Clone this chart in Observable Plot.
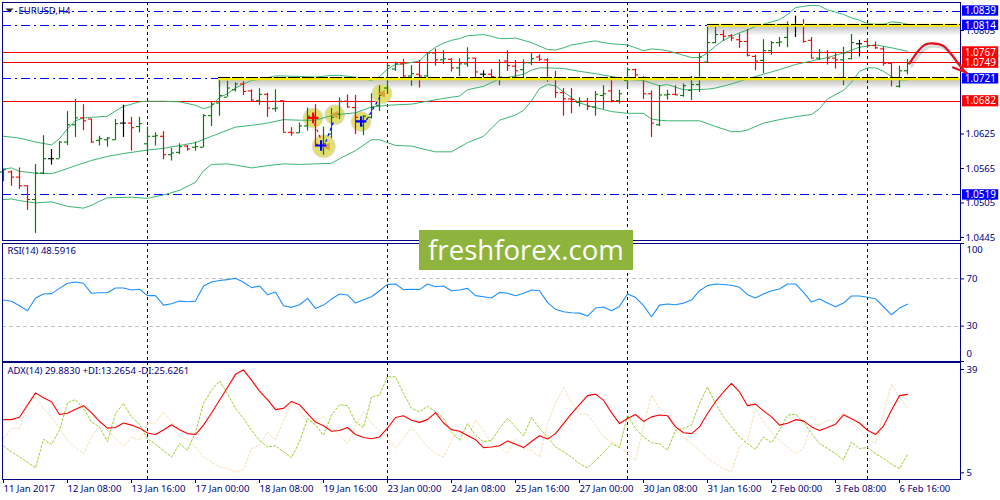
<!DOCTYPE html>
<html><head><meta charset="utf-8">
<script src="https://cdn.jsdelivr.net/npm/d3@7"></script>
<script src="https://cdn.jsdelivr.net/npm/@observablehq/plot@0.6"></script>
<style>
html,body{margin:0;padding:0;background:#fff;width:1000px;height:500px;overflow:hidden}
#chart{position:relative;width:1000px;height:500px}
#chart svg{position:absolute;left:0;top:0;display:block}
#mark{position:absolute;left:419px;top:230px;width:214px;height:40px;background:#8fb43e;color:#fff;font:27.6px/38px "Open Sans";text-align:center;letter-spacing:0}
</style></head><body>
<div id="chart"><div id="mark">freshforex.com</div></div>
<script>
// price values in units of 0.0001
const open=[10559,10559,10550,10535,10511,10557,10582,10582,10611,10641,10653,10651,10614,10615,10615,10644,10644,10638,10608,10621,10621,10589,10593,10604,10602,10602,10657,10679,10689,10702,10712,10700,10683,10694,10669,10683,10628,10627,10639,10656,10605,10625,10660,10682,10671,10640,10654,10675,10705,10738,10747,10726,10729,10726,10766,10754,10755,10740,10747,10757,10729,10729,10723,10752,10743,10737,10749,10759,10754,10721,10697,10686,10680,10682,10672,10692,10700,10683,10718,10737,10723,10695,10641,10693,10694,10692,10701,10711,10750,10784,10798,10796,10789,10786,10760,10753,10770,10784,10793,10814,10814,10788,10757,10767,10757,10754,10756,10782,10786,10779,10773,10748,10708,10735];
const high=[10564,10561,10566,10535,10572,10622,10598,10612,10664,10685,10676,10651,10621,10619,10650,10675,10654,10654,10637,10627,10629,10600,10608,10605,10611,10659,10681,10721,10717,10714,10716,10702,10704,10696,10702,10683,10636,10644,10670,10676,10637,10669,10688,10693,10692,10657,10695,10709,10747,10750,10755,10744,10753,10767,10773,10770,10756,10756,10775,10757,10735,10737,10754,10770,10753,10754,10765,10763,10756,10734,10704,10704,10688,10687,10699,10709,10725,10701,10740,10738,10725,10700,10709,10701,10709,10712,10725,10765,10815,10811,10805,10798,10799,10807,10762,10789,10786,10793,10820,10830,10824,10793,10772,10770,10767,10776,10798,10788,10791,10785,10776,10748,10743,10755];
const low=[10542,10534,10529,10492,10452,10554,10571,10582,10605,10619,10631,10609,10604,10602,10614,10619,10595,10627,10592,10604,10580,10578,10589,10595,10595,10601,10638,10656,10689,10698,10692,10682,10675,10654,10663,10628,10621,10626,10630,10602,10588,10617,10650,10670,10624,10622,10651,10664,10694,10734,10721,10708,10705,10723,10743,10746,10733,10725,10741,10721,10721,10721,10709,10734,10718,10718,10744,10751,10715,10687,10656,10660,10672,10666,10656,10668,10679,10677,10704,10723,10685,10619,10638,10684,10692,10689,10683,10697,10748,10782,10786,10786,10774,10759,10735,10730,10762,10776,10775,10793,10783,10756,10753,10745,10738,10709,10754,10759,10774,10772,10743,10707,10705,10728];
const close=[10563,10550,10535,10511,10557,10582,10582,10611,10641,10653,10648,10611,10617,10618,10643,10644,10636,10643,10621,10622,10589,10592,10603,10599,10603,10657,10677,10692,10705,10712,10699,10684,10694,10670,10670,10628,10627,10639,10656,10607,10608,10654,10682,10672,10654,10656,10671,10692,10744,10747,10726,10730,10726,10766,10754,10756,10740,10747,10757,10733,10729,10725,10724,10744,10735,10749,10756,10755,10720,10697,10686,10685,10682,10673,10694,10695,10683,10695,10737,10728,10695,10644,10693,10694,10693,10709,10711,10759,10784,10798,10795,10792,10786,10762,10752,10770,10784,10785,10815,10814,10786,10757,10767,10757,10754,10766,10784,10782,10779,10775,10748,10720,10735,10748];
// Bollinger bands read as [bar, price]
const bbUpper=[[0,10621],[2,10618],[4,10611],[6,10606],[7,10617],[8,10634],[9,10648],[10,10653],[11,10654],[12,10655],[13,10656],[14,10665],[15,10673],[16,10677],[17,10681],[18,10682],[20,10682],[22,10681],[24,10675],[25,10669],[26,10673],[27,10689],[28,10695],[29,10705],[30,10712],[31,10718],[32,10720],[33,10723],[34,10726],[35,10726],[37,10725],[39,10724],[41,10727],[42,10727],[44,10724],[46,10718],[47,10725],[48,10738],[49,10746],[50,10747],[52,10752],[53,10766],[54,10776],[55,10783],[56,10788],[57,10791],[58,10796],[59,10797],[60,10798],[61,10795],[62,10791],[63,10791],[64,10792],[65,10788],[66,10784],[67,10778],[68,10772],[69,10771],[70,10775],[71,10780],[72,10782],[73,10785],[74,10787],[75,10784],[76,10782],[78,10780],[80,10770],[81,10773],[82,10772],[83,10770],[85,10762],[86,10758],[87,10758],[88,10766],[89,10778],[90,10788],[91,10795],[92,10801],[93,10806],[94,10812],[95,10816],[96,10820],[97,10824],[98,10833],[99,10845],[100,10847],[101,10849],[102,10848],[103,10841],[104,10837],[105,10833],[106,10827],[107,10823],[108,10817],[109,10816],[110,10816],[111,10820],[112,10819],[113,10816]];
const bbMiddle=[[0,10564],[1,10566],[2,10560],[4,10557],[6,10556],[7,10560],[9,10570],[11,10579],[13,10586],[15,10591],[18,10597],[20,10600],[22,10605],[24,10610],[26,10621],[29,10637],[31,10640],[33,10644],[35,10650],[37,10649],[39,10649],[41,10657],[42,10659],[44,10662],[46,10672],[48,10675],[51,10677],[53,10682],[55,10687],[57,10691],[58,10702],[60,10708],[62,10721],[64,10726],[65,10729],[66,10736],[67,10740],[68,10740],[70,10739],[72,10734],[74,10730],[76,10725],[78,10720],[80,10718],[82,10709],[83,10711],[85,10702],[86,10702],[88,10703],[89,10705],[91,10712],[93,10721],[95,10729],[97,10737],[99,10746],[101,10752],[103,10758],[105,10766],[107,10776],[108,10778],[109,10780],[111,10775],[113,10769]];
const bbLower=[[0,10511],[1,10512],[2,10509],[4,10505],[6,10507],[8,10499],[10,10496],[11,10501],[12,10508],[13,10514],[16,10515],[18,10513],[20,10519],[22,10527],[24,10541],[25,10561],[26,10572],[28,10573],[29,10571],[31,10566],[33,10570],[35,10573],[37,10572],[39,10573],[41,10574],[42,10582],[44,10596],[46,10615],[47,10615],[49,10605],[51,10604],[53,10597],[54,10594],[56,10594],[58,10610],[60,10621],[62,10649],[64,10658],[65,10666],[66,10683],[67,10704],[68,10711],[69,10709],[70,10698],[72,10679],[74,10671],[76,10664],[78,10661],[80,10661],[81,10651],[82,10649],[83,10648],[87,10648],[89,10638],[91,10629],[92,10629],[93,10632],[95,10644],[97,10650],[99,10655],[101,10659],[102,10669],[103,10686],[105,10701],[106,10715],[107,10734],[108,10740],[109,10740],[110,10734],[111,10725],[112,10719],[113,10719]];
const rsi=[52.1,51,47.3,43,53.8,57.2,57.5,62,66.3,67.4,66.3,57.8,58.3,58.3,62.3,62.3,60.6,61.2,55.8,55.8,47.8,49,51.2,50.7,51.2,64,67.4,68.6,69.4,70.5,67.1,62.6,64,56.6,58.9,47.3,45.9,48.1,53.5,45,47.8,52.9,57.2,56.4,49.5,52.4,54.9,60,65.4,65.7,60.9,61.2,60.9,65.7,63.4,64,60,60.6,62,55.8,54.9,53.8,58.6,57.8,55.8,57.8,60.6,60,50.1,44.2,42.2,41.3,41,38.5,45.3,46.2,43,46.7,57.2,54.4,47.3,37.9,47.8,48.7,48.1,49.5,52.1,60,64.3,65.7,65.2,64.6,62.9,56.6,53.8,57.2,60,61.5,65.7,65.7,58.6,50.4,52.9,49.5,46.4,49.5,55.5,55.5,54.4,53.2,46.4,39.6,45.3,48.6];
const adx=[22.5,22.5,23.3,27.3,31.3,29.7,28.4,24.2,24.6,25.9,27.1,24.7,21.9,19.7,19.9,21.4,20.7,19.7,18.1,17.6,19.1,20.8,19.2,17.9,17.6,20.7,24.7,28.9,33.1,37.4,38.9,35.5,31.9,29.1,25.8,26.2,28.5,27.4,24.5,21.7,20.5,18.7,18.9,19.9,17.6,16.6,16.2,16.8,19.7,23.2,23.8,22.3,21.6,22.5,24.8,21.4,19.2,18.7,17.3,15.9,13.3,13.5,13.9,15.5,14.4,13.3,15.3,17.2,16.1,17.9,21.2,24.5,27.4,30.4,30.9,28.9,24.8,21.2,22.9,24.2,21.9,23.4,24,23.8,20.1,18.2,17.9,20.1,24.5,28.4,31.6,34.4,31.6,27.1,27.6,25.4,23.4,20.7,21.3,22.5,22.1,20.1,18.9,19.9,21,24.1,22.8,21.4,19,17.6,20.4,25.6,30.4,30.8];
const plusDI=[13.8,11.9,10.2,8.5,6.6,16,14.4,19,28,29.1,26.2,21.7,20.1,15.2,24.5,27.8,23.4,21,16.2,14.4,12.4,10.2,14.6,12.4,18.4,27.8,32.2,35.2,31.1,26.2,22.9,19,15.7,13.5,13.9,11.9,10,15.2,22.9,20.7,17.4,24,27.4,27.1,21.7,19.8,30,30.6,36.6,36.6,31.1,26.2,25.1,26.9,25.1,22.9,18.4,15.7,21.2,17.4,15.2,15.7,19.6,22.9,20.1,17.1,23.2,19.6,16.8,13.5,11.9,10.2,8,6.6,9.1,11.6,14.6,13.3,24,19.6,16.8,14.9,14.6,12.4,19,19.6,20.7,27.8,33.2,27.8,23.4,20.1,16.8,14.6,12.7,16.8,14.9,19,24,24.3,21.7,17.9,14.6,13,11.3,9.3,15.2,13,13.3,11.3,9.7,7.8,6.4,11.1];
const minusDI=[16.3,19.6,19.6,27.8,30,26.2,23.4,19.6,15.7,13.3,11.3,16.8,20.7,19,16.2,13.7,16.8,15.7,21.2,21.4,25.1,21.7,16.8,16.2,13.5,10.2,8.5,6.9,6.4,5.3,6,13,14,18.4,15.7,22.3,27.8,25.6,21.7,22.3,23.4,20.1,17.4,14.6,20.1,25.1,21.2,19,16.8,13,16.2,20.1,16.8,13.5,11.3,10.2,15.7,19,15.7,22.3,19,14.6,13.5,11.3,16.2,13,12.4,10.2,21.2,27.8,33,28.4,24.3,24.3,20.7,16.8,15.2,13.5,11.3,9.1,20.1,30.6,26.2,24,19,16.8,14.6,12.4,9.7,8,6.4,5.3,13.5,15.7,26.2,21.7,18.4,15.7,13.5,11.3,13,21.2,20.7,22.3,22.2,24.9,21.7,19.6,16.2,14.6,24.5,34.2,30,26.2];
// levels
const dashLevels=[1.0839,1.0814,1.0519];
const solidLevels=[1.0767,1.0749,1.0682];
const priceTicks=[1.0805,1.0625,1.0565,1.0505,1.0445];
const blueTags=[1.0839,1.0814,1.0721,1.0519];
const redTags=[1.0767,1.0749,1.0682];
const zones=[{price:1.0721,from:26.9},{price:1.0814,from:88}];
const timeTicks=[0,8,16,24,32,40,48,56,64,72,80,88,96,104,112];
const timeLabels=["11 Jan 2017","12 Jan 08:00","13 Jan 16:00","17 Jan 00:00","18 Jan 08:00","19 Jan 16:00","23 Jan 00:00","24 Jan 08:00","25 Jan 16:00","27 Jan 00:00","30 Jan 08:00","31 Jan 16:00","2 Feb 00:00","3 Feb 08:00","6 Feb 16:00"];
const separators=[18,48,78,108];
// annotations
const circles=[{x:38.7,p:1.0653,r:9.5},{x:41.4,p:1.06584,r:9.5},{x:40.04,p:1.06038,r:11},{x:44.7,p:1.06468,r:9.5},{x:47.3,p:1.0695,r:9.5}];
const crossRed=[{x:38.7,p:1.0653}];
const crossBlue=[{x:39.7,p:1.0605},{x:44.7,p:1.06468}];
const wedges=[{x:41.3,p:1.06584},{x:40.3,p:1.0603},{x:47.2,p:1.0695}];
const tradeRed=[{x:38.9,p:1.0642},{x:39.7,p:1.0615}];
const tradeBlue=[[{x:40.3,p:1.0612},{x:41.3,p:1.0648}],[{x:45.4,p:1.0650},{x:47,p:1.0688}]];
const arrowPath=[{x:113.25,p:1.07477},{x:114.4,p:1.07703},{x:115.25,p:1.07807},{x:116.25,p:1.07825},{x:117.4,p:1.0779},{x:118.4,p:1.0765},{x:119.25,p:1.07494},{x:120.25,p:1.0732}];
const arrowBarb=[{x:118.7,p:1.07407},{x:120.4,p:1.07315}];

for (const [n,a] of Object.entries({open,high,low,close,rsi,adx,plusDI,minusDI})) if(a.length!==114) throw new Error(n+" has "+a.length);

const FONT='"Noto Sans"';
const NAVY="#000080";
const xScale={domain:[-0.125,119.625],range:[2,960],axis:null};
const bars=open.map((o,i)=>({i,o:o/1e4,h:high[i]/1e4,l:low[i]/1e4,c:close[i]/1e4,
  color:close[i]>o?"#0a7a0a":close[i]<o?"#f00":"#000"}));
const pts=a=>a.map(([x,v])=>({x,p:v/1e4}));
const series=a=>a.map((v,i)=>({i,v}));
const base=(top,h,mb)=>({width:1000,height:h,marginTop:top,marginBottom:mb,marginLeft:2,marginRight:40,
  x:xScale,r:{type:"identity"},color:{type:"identity"},style:{background:"transparent",fontFamily:FONT,fontSize:"9.5px",overflow:"visible",color:NAVY}});
const crisp={shapeRendering:"crispEdges"};
const vlines=()=>Plot.ruleX(separators,{stroke:NAVY,strokeWidth:1,strokeDasharray:"3,3",...crisp});
const header=(t,dx,dy)=>Plot.text([t],{frameAnchor:"top-left",textAnchor:"start",dx,dy,fill:NAVY,fontSize:9.5});
const leftTri={draw(c,s){const r=Math.sqrt(s)/1.4;c.moveTo(r,-r);c.lineTo(-r,0);c.lineTo(r,r);c.closePath();}};
const downTri={draw(c,s){const r=Math.sqrt(s)/1.4;c.moveTo(-r,-r/2);c.lineTo(r,-r/2);c.lineTo(0,r/2);c.closePath();}};

const pTop=1.08538,pBot=1.04397,ppp=238/(pTop-pBot);
const bandColor="#3cb371";
const shadow=[2,4,6,8,10].flatMap(k=>zones.map(z=>({from:z.from,y1:z.price,y2:z.price-k/ppp})));

const price=Plot.plot({...base(2,242,2),
  y:{domain:[pBot,pTop],axis:null},
  marks:[
    Plot.rect(shadow,{x1:"from",x2:()=>119.625,y1:"y1",y2:"y2",fill:"#000",fillOpacity:.05}),
    Plot.ruleY(dashLevels,{stroke:"#0000ff",strokeWidth:1,strokeDasharray:"9,4,2,4",x1:-0.125,x2:119.625,...crisp}),
    Plot.ruleY([1.0721],{stroke:"#0000ff",strokeWidth:1,strokeDasharray:"9,4,2,4",x1:-0.125,x2:26.9,...crisp}),
    Plot.ruleY(solidLevels,{stroke:"#f00",strokeWidth:1,x1:-0.125,x2:119.625,...crisp}),
    vlines(),
    Plot.dot(circles,{x:"x",y:"p",r:d=>d.r+1,fill:"#ccc",fillOpacity:.6}),
    Plot.dot(circles,{x:"x",y:"p",r:"r",fill:"#e0df70"}),
    Plot.line(pts(bbUpper),{x:"x",y:"p",stroke:bandColor,strokeWidth:1}),
    Plot.line(pts(bbMiddle),{x:"x",y:"p",stroke:bandColor,strokeWidth:1}),
    Plot.line(pts(bbLower),{x:"x",y:"p",stroke:bandColor,strokeWidth:1}),
    Plot.ruleX(bars,{x:"i",y1:"l",y2:"h",stroke:"color",strokeWidth:1.2}),
    Plot.ruleY(bars,{y:"o",x1:d=>d.i-0.38,x2:"i",stroke:"color",strokeWidth:1.1}),
    Plot.ruleY(bars,{y:"c",x1:"i",x2:d=>d.i+0.38,stroke:"color",strokeWidth:1.1}),
    Plot.line(tradeRed,{x:"x",y:"p",stroke:"#f00",strokeWidth:1.2,strokeDasharray:"2,4"}),
    ...tradeBlue.map(t=>Plot.line(t,{x:"x",y:"p",stroke:"#00f",strokeWidth:1.2,strokeDasharray:"2,4"})),
    Plot.dot(wedges,{x:"x",y:"p",r:3,symbol:leftTri,fill:"#d9a33a"}),
    Plot.dot(crossRed,{x:"x",y:"p",r:3.5,symbol:"plus",stroke:"#f00",strokeWidth:2.2}),
    Plot.dot(crossBlue,{x:"x",y:"p",r:3.5,symbol:"plus",stroke:"#00f",strokeWidth:2.2}),
    Plot.ruleY(zones,{y:"price",x1:"from",x2:()=>119.625,stroke:"#ffee00",strokeWidth:3}),
    Plot.ruleY(zones,{y:"price",x1:"from",x2:()=>119.625,stroke:"#000",strokeWidth:1,strokeDasharray:"12,2",dy:-1,...crisp}),
    Plot.frame({stroke:NAVY,strokeWidth:1,...crisp}),
    Plot.axisY(priceTicks,{anchor:"right",label:null,tickSize:3,tickPadding:2,stroke:NAVY,fill:NAVY,tickFormat:d3.format(".4f"),fontSize:9.5}),
    Plot.rect(blueTags,{x1:()=>119.875,x2:()=>124.4,y1:d=>d+5.2/ppp,y2:d=>d-5.2/ppp,fill:"#0000ff"}),
    Plot.rect(redTags,{x1:()=>119.875,x2:()=>124.4,y1:d=>d+5.6/ppp,y2:d=>d-5.6/ppp,fill:"#f00"}),
    Plot.text(blueTags,{x:()=>122.1,y:d=>d,text:d3.format(".4f"),fill:"#fff",fontSize:10}),
    Plot.text(redTags,{x:()=>122.1,y:d=>d,text:d3.format(".4f"),fill:"#fff",fontSize:10}),
    Plot.line(arrowPath,{x:"x",y:"p",curve:"catmull-rom",stroke:"#000",strokeOpacity:.15,strokeWidth:2.6,dx:2,dy:3}),
    Plot.line(arrowPath,{x:"x",y:"p",curve:"catmull-rom",stroke:"#e0141c",strokeWidth:2.3}),
    Plot.line(arrowBarb,{x:"x",y:"p",stroke:"#e0141c",strokeWidth:2.3}),
    Plot.dot([0],{frameAnchor:"top-left",dx:7,dy:8,r:3.2,symbol:downTri,fill:"#222"}),
    header("EURUSD,H4",16,5)
  ]});

const rsiPane=Plot.plot({...base(243,361,0),
  y:{domain:[0,100],axis:null},
  marks:[
    Plot.ruleY([30,70],{stroke:"#c0c0c0",strokeWidth:1,strokeDasharray:"4,3",x1:-0.125,x2:119.625,...crisp}),
    vlines(),
    Plot.line(series(rsi),{x:"i",y:"v",stroke:"#1e90ff",strokeWidth:1.1}),
    Plot.axisY([70,30],{anchor:"right",label:null,tickSize:3,tickPadding:3,stroke:NAVY,fill:NAVY,fontSize:9.5}),
    Plot.axisY([100,0],{anchor:"right",label:null,tickSize:3,tickFormat:()=>"",stroke:NAVY}),
    Plot.axisY([100],{anchor:"right",label:null,tickSize:0,tickPadding:6,dy:6,fill:NAVY,fontSize:9.5}),
    Plot.axisY([0],{anchor:"right",label:null,tickSize:0,tickPadding:6,dy:-8,fill:NAVY,fontSize:9.5}),
    Plot.frame({stroke:NAVY,strokeWidth:1,...crisp}),
    header("RSI(14) 48.5916",5,4)
  ]});

const adxPane=Plot.plot({...base(362,500,21),
  y:{domain:[2.8,41.3],axis:null},
  marks:[
    vlines(),
    Plot.line(series(minusDI),{x:"i",y:"v",stroke:"#f5deb3",strokeWidth:1,strokeDasharray:"2,2"}),
    Plot.line(series(plusDI),{x:"i",y:"v",stroke:"#9acd32",strokeWidth:1,strokeDasharray:"2,2"}),
    Plot.line(series(adx),{x:"i",y:"v",stroke:"#f00",strokeWidth:1.1}),
    Plot.axisY([39,5],{anchor:"right",label:null,tickSize:3,tickPadding:3,stroke:NAVY,fill:NAVY,fontSize:9.5}),
    Plot.axisX(timeTicks,{anchor:"bottom",label:null,tickSize:4,tickPadding:2,stroke:NAVY,fill:NAVY,textAnchor:"start",
      tickFormat:d=>timeLabels[timeTicks.indexOf(d)],fontSize:9.5}),
    Plot.frame({stroke:NAVY,strokeWidth:1,...crisp}),
    header("ADX(14) 29.8830 +DI:13.2654 -DI:25.6261",5,5)
  ]});

const host=document.getElementById("chart");
const mark=document.getElementById("mark");
[price,rsiPane,adxPane].forEach(s=>host.insertBefore(s,mark));
</script></body></html>
